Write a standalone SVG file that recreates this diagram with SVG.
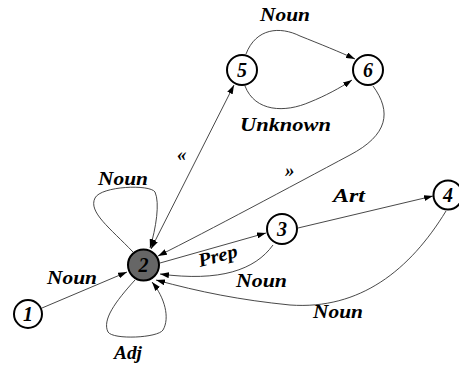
<svg xmlns="http://www.w3.org/2000/svg" width="459" height="365" viewBox="0 0 459 365">
<style>
.n{fill:#fff;stroke:#000;stroke-width:2}
.n2{fill:#666;stroke:#000;stroke-width:2}
.num{font-family:"Liberation Serif",serif;font-weight:bold;font-style:italic;font-size:20px;text-anchor:middle;fill:#000}
.e{fill:none;stroke:#333;stroke-width:0.9}
.l{font-family:"Liberation Serif",serif;font-weight:bold;font-style:italic;font-size:19px;fill:#000}
</style>
<defs>
<marker id="a" markerWidth="9" markerHeight="6" refX="9" refY="3" orient="auto-start-reverse" markerUnits="userSpaceOnUse"><path d="M0,0 L9,3 L0,6 z" fill="#000"/></marker>
</defs>
<rect width="459" height="365" fill="#fff"/>
<g id="edges">
<path class="e" d="M42,308 L127,272" marker-end="url(#a)"/>
<path class="e" d="M234,85 L151,249" marker-start="url(#a)" marker-end="url(#a)"/>
<path class="e" d="M133,252 C110,228 88,212 95,198 C101,186 150,184 155,192 C160,203 156,228 150,248" marker-end="url(#a)"/>
<path class="e" d="M135,280 C115,302 102,320 108,332 C113,340 158,338 163,330 C170,318 165,298 152,282" marker-end="url(#a)"/>
<path class="e" d="M246,54 C256,28 280,26 300,36 C320,44 340,52 355,59" marker-end="url(#a)"/>
<path class="e" d="M245,86 C255,112 285,113 310,102 C325,96 340,88 352,80" marker-end="url(#a)"/>
<path class="e" d="M373,86 C392,112 388,135 350,155 C290,187 210,230 158,256" marker-end="url(#a)"/>
<path class="e" d="M160,263 L266,233" marker-end="url(#a)"/>
<path class="e" d="M298,228 L433,196" marker-end="url(#a)"/>
<path class="e" d="M273,245 C255,270 220,282 160,274" marker-end="url(#a)"/>
<path class="e" d="M446,211 C410,270 360,310 290,305 C240,300 200,292 156,280" marker-end="url(#a)"/>
</g>
<g id="node1"><circle class="n" cx="28" cy="314" r="14"/><text class="num" x="28" y="321">1</text></g>
<g id="node2"><circle class="n2" cx="143.5" cy="265" r="15.5"/><text class="num" x="143.5" y="272">2</text></g>
<g id="node3"><circle class="n" cx="282" cy="229" r="15"/><text class="num" x="282" y="236">3</text></g>
<g id="node4"><circle class="n" cx="448" cy="195" r="14.5"/><text class="num" x="448" y="202">4</text></g>
<g id="node5"><circle class="n" cx="242" cy="70" r="15"/><text class="num" x="242" y="77">5</text></g>
<g id="node6"><circle class="n" cx="368" cy="70" r="15"/><text class="num" x="368" y="77">6</text></g>
<g id="labels">
<text class="l" x="260" y="21" textLength="50" lengthAdjust="spacingAndGlyphs">Noun</text>
<text class="l" x="240" y="131" textLength="91" lengthAdjust="spacingAndGlyphs">Unknown</text>
<text class="l" x="177" y="161" font-size="17">«</text>
<text class="l" x="285" y="177" font-size="17">»</text>
<text class="l" x="98" y="185" textLength="50" lengthAdjust="spacingAndGlyphs">Noun</text>
<text class="l" x="333" y="202" textLength="32" lengthAdjust="spacingAndGlyphs">Art</text>
<text class="l" transform="translate(200,267) rotate(-15)" textLength="40" lengthAdjust="spacingAndGlyphs">Prep</text>
<text class="l" x="236" y="287" textLength="51" lengthAdjust="spacingAndGlyphs">Noun</text>
<text class="l" x="313" y="318" textLength="50" lengthAdjust="spacingAndGlyphs">Noun</text>
<text class="l" x="47" y="284" textLength="50" lengthAdjust="spacingAndGlyphs">Noun</text>
<text class="l" x="114" y="359" textLength="28" lengthAdjust="spacingAndGlyphs">Adj</text>
</g>
</svg>
